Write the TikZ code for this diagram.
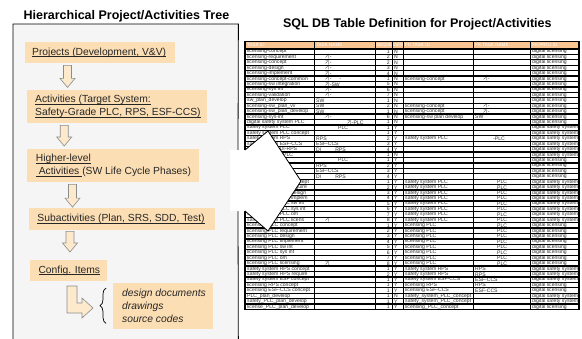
\documentclass[tikz,border=0pt]{standalone}
\usepackage{fontspec}
\setmainfont{Liberation Sans}
\newfontfamily\krfont{Noto Sans CJK KR}
\usetikzlibrary{decorations.pathreplacing,calc}
\definecolor{peach}{RGB}{252,222,180}
\definecolor{hdr}{RGB}{247,196,146}
\definecolor{arrfill}{RGB}{253,233,204}
\newcommand\kgi{{\krfont 기}}
\newsavebox\ulbox
\newcommand\uln[1]{\sbox\ulbox{#1}\rlap{\rule[-1.6pt]{\wd\ulbox}{0.6pt}}\usebox\ulbox}
\newcommand\blockdown[2]{%
  \filldraw[barrow] let \p1=#1, \p2=#2 in
    (\x1-4pt,\y1) -- (\x1+4pt,\y1) -- (\x1+4pt,\y2+9pt) -- (\x1+7.5pt,\y2+9pt)
    -- (\x1,\y2) -- (\x1-7.5pt,\y2+9pt) -- (\x1-4pt,\y2+9pt) -- cycle;}
\begin{document}
\begin{tikzpicture}[x=1pt,y=-1pt,
  pbox/.style={fill=peach, anchor=north west, inner sep=0pt},
  ptext/.style={anchor=west, align=left, inner sep=0pt, font=\fontsize{10.3}{13}\selectfont, text=black!85},
  barrow/.style={fill=arrfill, draw=black!45, line width=0.6pt, line join=miter},
  cell/.style={anchor=west, inner sep=0pt, font=\fontsize{5.1}{5.1}\selectfont, text=black!82},
  hcell/.style={anchor=west, inner sep=0pt, font=\fontsize{4.6}{4.6}\selectfont, text=white},
  rowline/.style={line width=1.35pt, black},
  colline/.style={line width=1pt, black},
  ttl/.style={font=\bfseries\fontsize{12.5}{15}\selectfont, inner sep=0pt}
]
\useasboundingbox (0,0) rectangle (582,338);
\clip (0,0) rectangle (582,338);

% titles
\node[ttl] (title1) at (126.4,16) {Hierarchical Project/Activities Tree};
\node[ttl] (title2) at (417.3,24) {SQL DB Table Definition for Project/Activities};

% left frame
\node[fill=gray!8, anchor=north west, inner sep=0pt, minimum width=225pt, minimum height=330pt] (frame) at (13,24) {};
\draw[line width=0.8pt] (238,150) -- (frame.north east) -- (frame.north west) -- (frame.south west);
\draw[line width=0.8pt] (238,211) -- (frame.south east);

% boxes
\node[pbox, minimum width=150pt, minimum height=21pt] (proj) at (25,42) {};
\node[ptext] (projt) at ($(proj.west)+(7,0)$) {\uln{Projects (Development, V\&V)}};

\node[pbox, minimum width=180pt, minimum height=33pt] (act) at (27,90) {};
\node[ptext] (actt) at ($(act.west)+(8,0)$) {\uln{Activities (Target System:}\\\uln{Safety-Grade PLC, RPS, ESF-CCS)}};

\node[pbox, minimum width=172pt, minimum height=33pt] (hla) at (27,149) {};
\node[ptext] (hlat) at ($(hla.west)+(8.7,0)$) {\uln{Higher-level}\\\uln{\ Activities\ }(SW Life Cycle Phases)};

\node[pbox, minimum width=186pt, minimum height=22pt] (sub) at (29,208) {};
\node[ptext] (subt) at ($(sub.west)+(8.3,0)$) {\uln{Subactivities (Plan, SRS, SDD, Test)}};

\node[pbox, minimum width=77pt, minimum height=21pt] (cfg) at (30,260) {};
\node[ptext] (cfgt) at ($(cfg.west)+(8.3,0)$) {\uln{Config. Items}};

\node[pbox, minimum width=100pt, minimum height=46pt] (items) at (113,283) {};
\node[ptext, font=\fontsize{10.3}{13}\selectfont\itshape] (itemst) at ($(items.west)+(9,0)$) {design documents\\drawings\\source codes};

% block arrows
\blockdown{($(proj.south west)+(42.5,2)$)}{($(proj.south west)+(42.5,24)$)}
\blockdown{($(act.south west)+(37.2,2)$)}{($(hla.north west)+(37.2,-3)$)}
\blockdown{($(hla.south west)+(45.5,2)$)}{($(hla.south west)+(45.5,24.7)$)}
\blockdown{($(sub.south west)+(41,1)$)}{($(cfg.north west)+(40,-8)$)}
\filldraw[barrow] (67,286) -- (77,286) -- (77,303) -- (82,303) -- (82,298) -- (93,308)
  -- (82,318) -- (82,313) -- (67,313) -- cycle;

% brace
\draw[decorate, decoration={brace, amplitude=6pt}, line width=0.7pt]
  ($(items.south west)+(-7,-6)$) -- ($(items.north west)+(-7,5)$);

% table
\fill[hdr] (245,41.5) rectangle (579,48.9);
\node[hcell] (h1) at (247,45.2) {TASK ID};
\node[hcell] (h2) at (316,45.2) {TASK NAME};
\node[hcell] (h3) at (376,45.2) {SEQUE};
\node[hcell] (h4) at (392.6,45.2) {VIEW};
\node[hcell] (h5) at (405,45.2) {FK TASK ID};
\node[hcell] (h6) at (475,45.2) {FK TASK NAME};
\node[hcell] (h7) at (532,45.2) {FK PROJ ID};

\foreach \k/\ta/\tb/\sq/\vw/\fa/\fb/\fc in {
1/licensing-concept/{}/1/N/{}/{}/digital licensing,
2/licensing-requirement/\hspace*{9pt}\kgi-/2/N/{}/{}/digital licensing,
3/licensing-concept/\hspace*{9pt}\kgi-/2/N/{}/{}/digital licensing,
4/licensing-design/\hspace*{9pt}\kgi-/3/N/{}/{}/digital licensing,
5/licensing-implement/\hspace*{9pt}\kgi-/4/N/{}/{}/digital licensing,
6/licensing-concept-common/\hspace*{9pt}\kgi-\hspace*{8pt}-/1/N/licensing-concept/\hspace*{8pt}\kgi-/digital licensing,
7/licensing-sw integration/\hspace*{9pt}\kgi-SW/5/N/{}/{}/digital licensing,
8/licensing-sys int/\hspace*{9pt}\kgi-/6/N/{}/{}/digital licensing,
9/licensing-validation/\hspace*{9pt}\kgi-/7/N/{}/{}/digital licensing,
10/sw\_plan\_develop/SW/1/N/{}/{}/digital licensing,
11/licensing-sw\_plan\_vv/SW/2/N/licensing-concept/\hspace*{8pt}\kgi-/digital licensing,
12/licensing-sw\_plan\_develop/SW/1/N/licensing-concept/\hspace*{8pt}\kgi-/digital licensing,
13/licensing-sys-int/\hspace*{9pt}\kgi-/6/N/licensing-sw plan develop/SW/digital licensing,
14/digital safety system PLC/\hspace*{31pt}\kgi-PLC/1/N/{}/{}/digital licensing,
15/safety system PLC/\hspace*{22pt}PLC/1/Y/{}/{}/digital safety system,
16/safety system PLC concept/{}/1/Y/{}/{}/digital safety system,
17/safety system RPS/RPS/2/Y/safety system PLC/\hspace*{18pt}-PLC/digital safety system,
18/safety system ESF-CCS/ESF-CCS/3/Y/{}/{}/digital safety system,
19/safety system DI-RPS/DI\hspace*{14pt}RPS/4/Y/{}/{}/digital safety system,
20/digital licensing PLC/{}/1/N/{}/{}/digital safety system,
21/licensing PLC/\hspace*{22pt}PLC/1/Y/{}/{}/digital licensing,
22/licensing RPS/RPS/2/Y/{}/{}/digital licensing,
23/licensing ESF-CCS/ESF-CCS/3/Y/{}/{}/digital licensing,
24/licensing DI-RPS/DI\hspace*{14pt}RPS/4/Y/{}/{}/digital licensing,
25/safety system PLC concept/{}/1/Y/safety system PLC/\hspace*{22pt}PLC/digital safety system,
26/safety system PLC require/{}/2/Y/safety system PLC/\hspace*{22pt}PLC/digital safety system,
27/safety system PLC design/{}/3/Y/safety system PLC/\hspace*{22pt}PLC/digital safety system,
28/safety system PLC implem/{}/4/Y/safety system PLC/\hspace*{22pt}PLC/digital safety system,
29/safety system PLC sw int/{}/5/Y/safety system PLC/\hspace*{22pt}PLC/digital safety system,
30/safety system PLC sys int/{}/6/Y/safety system PLC/\hspace*{22pt}PLC/digital safety system,
31/safety system PLC om/{}/7/Y/safety system PLC/\hspace*{22pt}PLC/digital safety system,
32/safety system PLC licens/\hspace*{9pt}\kgi/8/Y/safety system PLC/\hspace*{22pt}PLC/digital safety system,
33/licensing PLC concept/{}/1/Y/licensing PLC/\hspace*{22pt}PLC/digital licensing,
34/licensing PLC requirement/{}/2/Y/licensing PLC/\hspace*{22pt}PLC/digital licensing,
35/licensing PLC design/{}/3/Y/licensing PLC/\hspace*{22pt}PLC/digital licensing,
36/licensing PLC implement/{}/4/Y/licensing PLC/\hspace*{22pt}PLC/digital licensing,
37/licensing PLC sw int/{}/5/Y/licensing PLC/\hspace*{22pt}PLC/digital licensing,
38/licensing PLC sys int/{}/6/Y/licensing PLC/\hspace*{22pt}PLC/digital licensing,
39/licensing PLC om/{}/7/Y/licensing PLC/\hspace*{22pt}PLC/digital licensing,
40/licensing PLC licensing/\hspace*{9pt}\kgi/8/Y/licensing PLC/\hspace*{22pt}PLC/digital licensing,
41/safety system RPS concept/{}/1/Y/safety system RPS/RPS/digital safety system,
42/safety system RPS require/{}/2/Y/safety system RPS/RPS/digital safety system,
43/safety system ESF concept/{}/1/Y/safety system ESF-CCS/ESF-CCS/digital safety system,
44/licensing RPS concept/{}/1/Y/licensing RPS/RPS/digital licensing,
45/licensing ESF-CCS concept/{}/1/Y/licensing ESF-CCS/ESF-CCS/digital licensing,
46/PLC\_plan\_develop/{}/1/N/safety\_system\_PLC\_concept/{}/digital safety system,
47/safety\_PLC\_plan\_develop/{}/1/Y/safety\_system\_PLC\_concept/{}/digital safety system,
48/license\_PLC\_plan\_develop/{}/1/Y/licensing\_PLC\_concept/{}/digital licensing}{
  \pgfmathsetmacro\yy{48.9+(\k-0.5)*5.43}
  \node[cell] (r\k-1) at (247,\yy) {\ta};
  \node[cell] (r\k-2) at (316,\yy) {\tb};
  \node[cell,anchor=east] (r\k-3) at (390,\yy) {\sq};
  \node[cell] (r\k-4) at (394,\yy) {\vw};
  \node[cell] (r\k-5) at (405,\yy) {\fa};
  \node[cell] (r\k-6) at (475,\yy) {\fb};
  \node[cell] (r\k-7) at (532,\yy) {\fc};
}
\foreach \k in {0,...,48}{\pgfmathsetmacro\yy{48.9+\k*5.43}\draw[rowline] (245,\yy) -- (579,\yy);}
\foreach \xx in {314,375,392,403,473,530}{\draw[colline] (\xx,41.5) -- (\xx,309.5);}
\draw[line width=1.2pt] (245,41.5) rectangle (579,309.5);

% callout wedge
\fill[white] (230,150) -- (245,150) -- (268,131) -- (301,181) -- (268,231) -- (245,211) -- (230,211) -- cycle;
\draw[line width=0.8pt, line join=miter] (245,150) -- (268,131) -- (301,181) -- (268,231) -- (245,211);
\end{tikzpicture}
\end{document}
